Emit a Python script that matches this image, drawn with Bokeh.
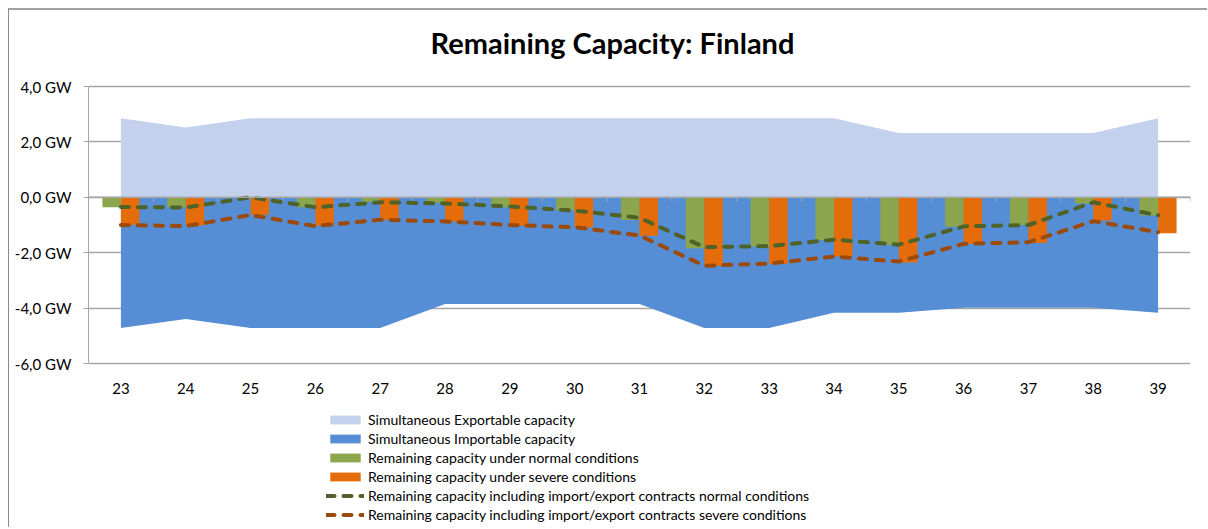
from bokeh.plotting import figure
from bokeh.models import (ColumnDataSource, FixedTicker, Span, Label, Legend, LegendItem, Range1d)
from bokeh.embed import file_html
from bokeh.resources import INLINE

weeks = [23, 24, 25, 26, 27, 28, 29, 30, 31, 32, 33, 34, 35, 36, 37, 38, 39]
export_cap = [2.85, 2.52, 2.85, 2.85, 2.85, 2.85, 2.85, 2.85, 2.85, 2.85, 2.85, 2.85, 2.32, 2.32, 2.32, 2.32, 2.85]
import_cap = [-4.72, -4.39, -4.72, -4.72, -4.72, -3.85, -3.85, -3.85, -3.85, -4.72, -4.72, -4.17, -4.17, -3.99, -3.99, -3.99, -4.17]
remaining_normal = [-0.36, -0.36, -0.02, -0.36, -0.16, -0.20, -0.36, -0.48, -0.82, -1.84, -1.78, -1.54, -1.71, -1.06, -1.00, -0.22, -0.66]
remaining_severe = [-0.99, -1.02, -0.63, -1.02, -0.81, -0.87, -1.03, -1.08, -1.39, -2.47, -2.41, -2.13, -2.35, -1.68, -1.65, -0.84, -1.30]
contracts_normal = [-0.35, -0.37, 0.0, -0.36, -0.18, -0.22, -0.33, -0.48, -0.74, -1.80, -1.76, -1.53, -1.71, -1.05, -1.00, -0.18, -0.65]
contracts_severe = [-1.00, -1.04, -0.64, -1.04, -0.81, -0.87, -1.00, -1.08, -1.38, -2.47, -2.39, -2.14, -2.32, -1.68, -1.62, -0.86, -1.26]
y_ticks = [-6, -4, -2, 0, 2, 4]
y_tick_labels = ["-6,0 GW", "-4,0 GW", "-2,0 GW", "0,0 GW", "2,0 GW", "4,0 GW"]
title_text = "Remaining Capacity: Finland"
legend_labels = [
    "Simultaneous Exportable capacity",
    "Simultaneous Importable capacity",
    "Remaining capacity under normal conditions",
    "Remaining capacity under severe conditions",
    "Remaining capacity including import/export contracts normal conditions",
    "Remaining capacity including import/export contracts severe conditions",
]

FONT = "Lato"
GRID = "#a6a6a6"
bar_w = 0.285

# layout: canvas 1199x519; value axis spans 277 px for 10 GW, top gridline 76 px below canvas top
W, H = 1199, 519
top_pad, px_per_gw = 76, 27.7
y_hi = y_ticks[-1] + top_pad / px_per_gw
y_lo = y_hi - H / px_per_gw

src = ColumnDataSource(dict(
    week=weeks,
    zero=[0] * len(weeks),
    exp=export_cap,
    imp=import_cap,
    normal=remaining_normal,
    severe=remaining_severe,
    cn=contracts_normal,
    cs=contracts_severe,
    x_normal=[w - bar_w / 2 for w in weeks],
    x_severe=[w + bar_w / 2 for w in weeks],
))

p = figure(width=W, height=H, output_backend="svg", toolbar_location=None,
           x_range=Range1d(weeks[0] - 0.5, weeks[-1] + 0.5), y_range=Range1d(y_lo, y_hi),
           min_border_left=79, min_border_right=18, min_border_top=0, min_border_bottom=0)
p.styles = {"margin-left": "8px", "margin-top": "8px",
            "border-left": "1px solid #8c8c8c", "border-top": "2px solid #a0a0a0"}
p.outline_line_color = None
p.background_fill_color = "white"
p.border_fill_color = "white"

r_exp = p.varea(x="week", y1="zero", y2="exp", source=src, fill_color="#c3d1ed")
r_imp = p.varea(x="week", y1="zero", y2="imp", source=src, fill_color="#558ed5")

# small category boundary ticks on the zero line
bounds = [w - 0.5 for w in weeks] + [weeks[-1] + 0.5]
p.segment(x0=bounds, y0=[0] * len(bounds), x1=bounds, y1=[-0.16] * len(bounds),
          line_color=GRID, line_width=1)

r_n = p.vbar(x="x_normal", top="zero", bottom="normal", width=bar_w, source=src,
             fill_color="#8ca64e", line_color=None)
r_s = p.vbar(x="x_severe", top="zero", bottom="severe", width=bar_w, source=src,
             fill_color="#e46c0a", line_color=None)

zero_line = Span(location=0, dimension="width", line_color=GRID, line_width=1.5)
p.add_layout(zero_line)

r_cn = p.line(x="week", y="cn", source=src, line_color="#4f6228", line_width=4,
              line_dash="8 9", line_cap="round")
r_cs = p.line(x="week", y="cs", source=src, line_color="#9c4a0a", line_width=4,
              line_dash="8 9", line_cap="round")

# axes
p.yaxis.ticker = FixedTicker(ticks=y_ticks)
p.yaxis.bounds = (y_ticks[0], y_ticks[-1])
p.yaxis.major_label_overrides = {t: l for t, l in zip(y_ticks, y_tick_labels)}
p.yaxis.axis_line_color = GRID
p.yaxis.major_tick_line_color = GRID
p.yaxis.major_tick_out = 5
p.yaxis.major_tick_in = 0
p.yaxis.minor_tick_line_color = None
p.yaxis.major_label_text_font = FONT
p.yaxis.major_label_text_font_size = "15px"
p.yaxis.major_label_text_color = "black"
p.yaxis.major_label_standoff = 12

p.xaxis.ticker = FixedTicker(ticks=weeks)
p.xaxis.fixed_location = y_ticks[0]
p.xaxis.axis_line_color = None
p.xaxis.major_tick_line_color = None
p.xaxis.minor_tick_line_color = None
p.xaxis.major_label_text_font = FONT
p.xaxis.major_label_text_font_size = "15px"
p.xaxis.major_label_text_color = "black"
p.xaxis.major_label_standoff = 13

p.xgrid.grid_line_color = None
p.ygrid.ticker = FixedTicker(ticks=y_ticks)
p.ygrid.grid_line_color = GRID
p.ygrid.grid_line_width = 1.5

title = Label(x=524, y=H - 32, x_units="screen", y_units="screen", text=title_text,
              text_font=FONT, text_font_style="bold", text_font_size="29px",
              text_align="center", text_baseline="middle", text_color="black")
p.add_layout(title)

legend = Legend(items=[
    LegendItem(label=legend_labels[0], renderers=[r_exp]),
    LegendItem(label=legend_labels[1], renderers=[r_imp]),
    LegendItem(label=legend_labels[2], renderers=[r_n]),
    LegendItem(label=legend_labels[3], renderers=[r_s]),
    LegendItem(label=legend_labels[4], renderers=[r_cn]),
    LegendItem(label=legend_labels[5], renderers=[r_cs]),
], location=(238, 5))
legend.padding = 0
legend.margin = 0
legend.spacing = 0
legend.glyph_width = 38
legend.glyph_height = 11
legend.label_height = 19
legend.label_standoff = 4
legend.label_text_font = FONT
legend.label_text_font_size = "14px"
legend.label_text_color = "black"
legend.border_line_color = None
legend.background_fill_alpha = 0
p.add_layout(legend)

open("out.html", "w").write(file_html(p, INLINE))
